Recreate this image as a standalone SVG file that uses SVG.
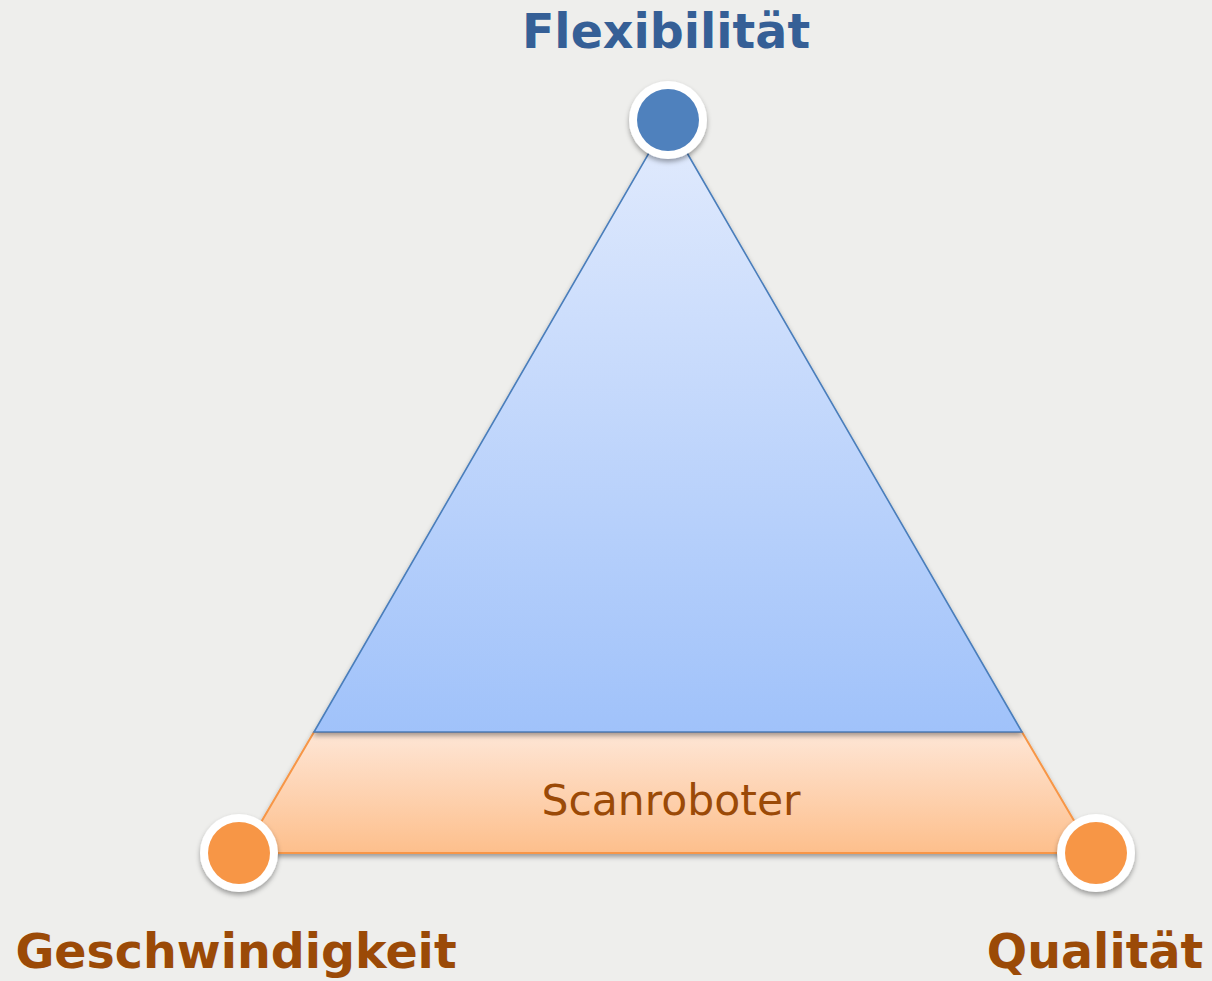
<svg xmlns="http://www.w3.org/2000/svg" width="1212" height="981" viewBox="0 0 1212 981">
<defs>
<linearGradient id="gBlue" x1="0" y1="0" x2="0" y2="1">
<stop offset="0" stop-color="#e2ebfd"/>
<stop offset="1" stop-color="#a0c2fa"/>
</linearGradient>
<linearGradient id="gOrange" x1="0" y1="0" x2="0" y2="1">
<stop offset="0" stop-color="#fee6d6"/>
<stop offset="1" stop-color="#fdbf8c"/>
</linearGradient>
<filter id="sh" x="-20%" y="-20%" width="140%" height="140%">
<feDropShadow dx="0" dy="3" stdDeviation="2.5" flood-color="#000" flood-opacity="0.35"/>
</filter>
<style>
.lbl{font-family:"DejaVu Sans","Verdana",sans-serif;font-weight:bold;font-size:47.5px;text-anchor:middle}
.blueT{fill:#355f96}
.orT{fill:#9b4a07}
.ring{fill:#fff;filter:url(#sh)}
</style>
</defs>
<rect width="1212" height="981" fill="#eeeeec"/>
<g id="shapes">
<g id="base">
<polygon points="314,732 1022,732 1093,853 243,853" fill="url(#gOrange)" stroke="#f79646" stroke-width="2" filter="url(#sh)"/>
<text x="671" y="815" font-family="DejaVu Sans, Verdana, sans-serif" font-size="42.5" fill="#9b4a07" text-anchor="middle">Scanroboter</text>
</g>
<g id="top">
<polygon points="668,120 1022,732 314,732" fill="url(#gBlue)" stroke="#4a7ebb" stroke-width="1.6" filter="url(#sh)"/>
</g>
</g>
<g id="node-flex">
<circle cx="668" cy="120" r="39" class="ring"/>
<circle cx="668" cy="120" r="31" fill="#4f81bd"/>
<text x="666" y="48" class="lbl blueT">Flexibilität</text>
</g>
<g id="node-speed">
<circle cx="239" cy="853" r="39" class="ring"/>
<circle cx="239" cy="853" r="31" fill="#f79646"/>
<text x="236" y="968" class="lbl orT">Geschwindigkeit</text>
</g>
<g id="node-quality">
<circle cx="1096" cy="853" r="39" class="ring"/>
<circle cx="1096" cy="853" r="31" fill="#f79646"/>
<text x="1095" y="968" class="lbl orT">Qualität</text>
</g>
</svg>
